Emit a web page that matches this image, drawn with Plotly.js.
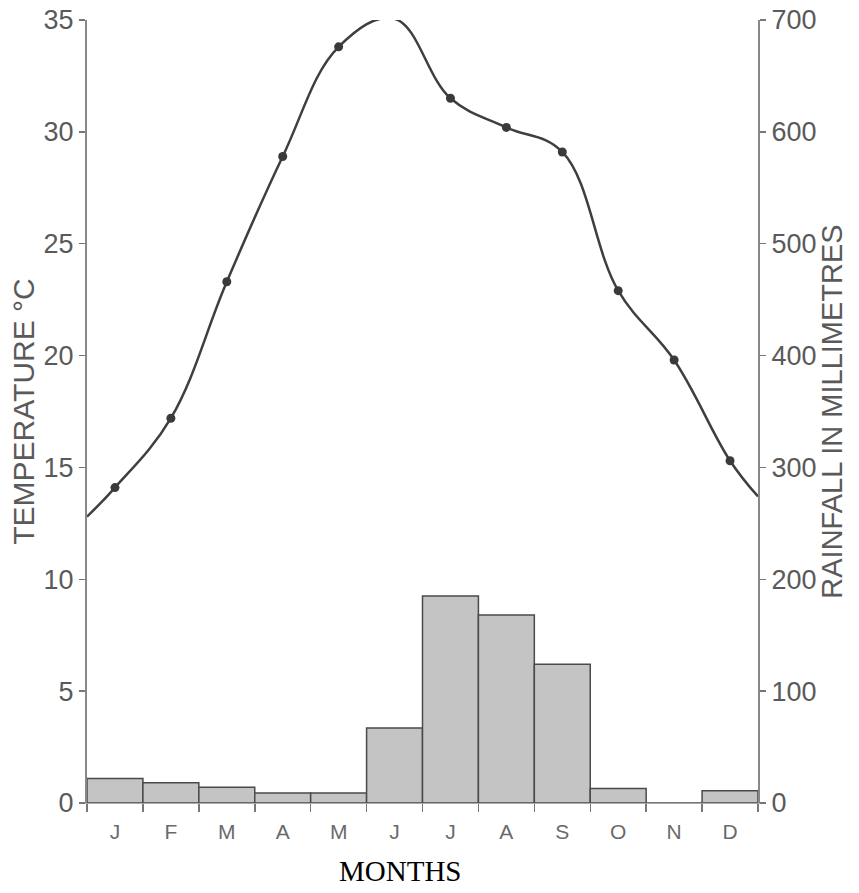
<!DOCTYPE html>
<html>
<head>
<meta charset="utf-8">
<script src="https://cdn.plot.ly/plotly-3.0.1.min.js"></script>
<style>html,body{margin:0;padding:0;background:#fff;}#chart{width:859px;height:893px;}</style>
</head>
<body>
<div id="chart"></div>
<script>
// Month labels and positions
var monthLabels = ["J","F","M","A","M","J","J","A","S","O","N","D"];
var monthIdx = [0,1,2,3,4,5,6,7,8,9,10,11];
// Temperature (°C), monthly means
var temperature = [14.1,17.2,23.3,28.9,33.8,35.05,31.5,30.2,29.1,22.9,19.8,15.3];
// Temperature curve values at the left and right edges of the chart
var tempEdgeX = [-0.5, 11.5];
var tempEdge = [12.8, 13.7];
// Rainfall (mm), monthly totals
var rainfall = [22,18,14,9,9,67,185,168,124,13,0,11];
// Axis ticks
var tempTicks = [0,5,10,15,20,25,30,35];
var rainTicks = [0,100,200,300,400,500,600,700];
var monthEdges = [-0.5,0.5,1.5,2.5,3.5,4.5,5.5,6.5,7.5,8.5,9.5,10.5,11.5];

var curveX = [tempEdgeX[0]].concat(monthIdx, [tempEdgeX[1]]);
var curveY = [tempEdge[0]].concat(temperature, [tempEdge[1]]);

var sans = "Liberation Sans, Arial, sans-serif";
var grey = "#5a5a5a";

var traces = [
  {
    type: "bar", x: monthIdx, y: rainfall, yaxis: "y2", width: 1,
    marker: {color: "#c4c4c4", line: {color: "#4a4a4a", width: 1.5}},
    hoverinfo: "y", name: "Rainfall"
  },
  {
    type: "scatter", mode: "lines", x: curveX, y: curveY,
    line: {shape: "spline", smoothing: 1.1, color: "#3f3f3f", width: 2.5},
    cliponaxis: false, hoverinfo: "skip", name: "Temperature curve"
  },
  {
    type: "scatter", mode: "markers", x: monthIdx, y: temperature,
    marker: {color: "#3a3a3a", size: 9},
    cliponaxis: false, name: "Temperature"
  }
];

var layout = {
  width: 859, height: 893,
  margin: {l: 87, r: 101, t: 20, b: 90},
  paper_bgcolor: "#fff", plot_bgcolor: "#fff",
  showlegend: false,
  bargap: 0,
  font: {family: sans, color: grey},
  xaxis: {
    range: [-0.5, 11.5],
    tickmode: "array", tickvals: monthIdx, ticktext: monthLabels,
    ticks: "outside", ticklen: 0, ticklabelstandoff: 10,
    minor: {tickmode: "array", tickvals: monthEdges, ticks: "outside", ticklen: 8, tickcolor: "#777", tickwidth: 1.5},
    tickfont: {size: 21, color: "#6a6a6a", family: sans},
    showline: true, linecolor: "#aaa", linewidth: 1,
    showgrid: false, zeroline: false, fixedrange: true
  },
  yaxis: {
    range: [0, 35],
    tickmode: "array", tickvals: tempTicks,
    ticks: "outside", ticklen: 6, tickwidth: 1.5, tickcolor: "#777",
    tickfont: {size: 27, color: grey, family: sans},
    showline: true, linecolor: "#888", linewidth: 2,
    showgrid: false, zeroline: false,
    title: {text: "TEMPERATURE °C", font: {size: 30, color: grey, family: sans}, standoff: 0}
  },
  yaxis2: {
    range: [0, 700], overlaying: "y", side: "right", anchor: "x",
    tickmode: "array", tickvals: rainTicks,
    ticks: "outside", ticklen: 6, tickwidth: 1.5, tickcolor: "#777",
    tickfont: {size: 27, color: grey, family: sans},
    showline: true, linecolor: "#888", linewidth: 2,
    showgrid: false, zeroline: false,
    title: {text: "RAINFALL IN MILLIMETRES", font: {size: 29, color: grey, family: sans}, standoff: 6}
  },
  annotations: [{
    text: "MONTHS", xref: "paper", yref: "paper", x: 0.466, y: -0.087,
    xanchor: "center", yanchor: "middle", showarrow: false,
    font: {family: "Liberation Serif, Times New Roman, serif", size: 29, color: "#000"}
  }]
};

Plotly.newPlot("chart", traces, layout, {displayModeBar: false, staticPlot: true});
</script>
</body>
</html>
